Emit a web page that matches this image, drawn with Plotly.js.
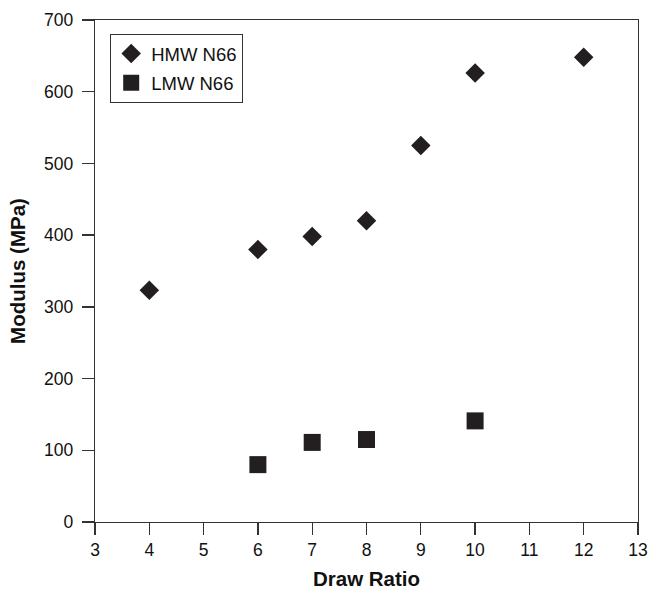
<!DOCTYPE html>
<html>
<head>
<meta charset="utf-8">
<script src="https://cdn.plot.ly/plotly-3.0.1.min.js"></script>
<style>html,body{margin:0;padding:0;background:#fff;}#chart{width:649px;height:590px;}</style>
</head>
<body>
<div id="chart"></div>
<script>
var hmwDraw = [4, 6, 7, 8, 9, 10, 12];
var hmwModulus = [323, 380, 398, 420, 525, 626, 648];
var lmwDraw = [6, 7, 8, 10];
var lmwModulus = [80, 111, 115, 141];
var xTicks = [3, 4, 5, 6, 7, 8, 9, 10, 11, 12, 13];
var yTicks = [0, 100, 200, 300, 400, 500, 600, 700];

var fam = 'Liberation Sans, Arial, sans-serif';
var tickFont = {family: fam, size: 17.5, color: '#111'};
var legendFont = {family: fam, size: 18.5, color: '#111'};
var titleFont = {family: fam, size: 20.5, color: '#111'};

var traces = [
  {x: hmwDraw, y: hmwModulus, name: 'HMW N66', legendgroup: 'a', type: 'scatter', mode: 'markers',
   marker: {symbol: 'diamond', size: 15, color: '#231f20'}},
  {x: lmwDraw, y: lmwModulus, name: 'LMW N66', legendgroup: 'b', type: 'scatter', mode: 'markers',
   marker: {symbol: 'square', size: 17, color: '#231f20'}}
];

var axisCommon = {
  showgrid: false, zeroline: false, showline: true, mirror: true,
  linecolor: '#333', linewidth: 1.3,
  ticks: 'outside', ticklen: 12, tickwidth: 1.3, tickcolor: '#333',
  tickfont: tickFont
};

var layout = {
  width: 649, height: 590,
  margin: {l: 95, r: 11, t: 20, b: 68},
  paper_bgcolor: '#fff', plot_bgcolor: '#fff',
  font: tickFont,
  showlegend: true,
  legend: {x: 0.028, y: 0.972, xanchor: 'left', yanchor: 'top',
           bordercolor: '#333', borderwidth: 1, bgcolor: '#fff',
           font: legendFont, traceorder: 'grouped', tracegroupgap: 2},
  xaxis: Object.assign({}, axisCommon, {
    range: [3, 13], tickvals: xTicks, ticktext: xTicks.map(String),
    title: {text: '<b>Draw Ratio</b>', font: titleFont, standoff: 12}
  }),
  yaxis: Object.assign({}, axisCommon, {
    range: [0, 700], tickvals: yTicks, ticktext: yTicks.map(String),
    ticklabelstandoff: 5,
    title: {text: '<b>Modulus (MPa)</b>', font: titleFont, standoff: 12}
  })
};

Plotly.newPlot('chart', traces, layout, {displayModeBar: false, staticPlot: true});
</script>
</body>
</html>
